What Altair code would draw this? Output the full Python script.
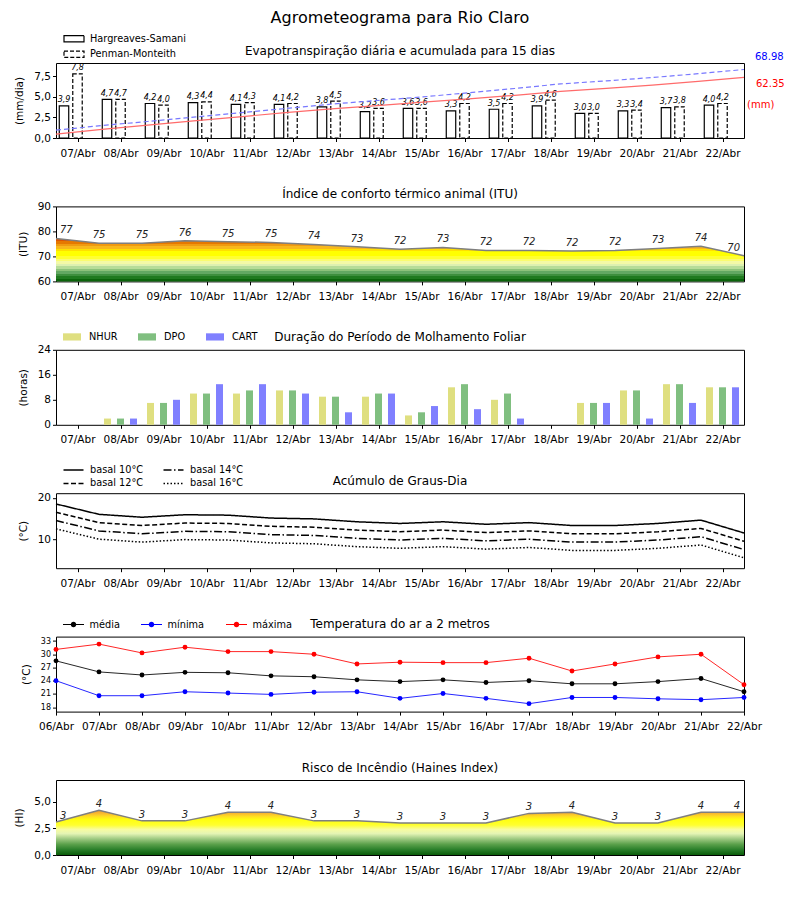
import json
import altair as alt
import pandas as pd

FONT = "DejaVu Sans"
W = 688
H = 75

# ---------------- data ----------------
days16 = ["07/Abr", "08/Abr", "09/Abr", "10/Abr", "11/Abr", "12/Abr", "13/Abr", "14/Abr",
          "15/Abr", "16/Abr", "17/Abr", "18/Abr", "19/Abr", "20/Abr", "21/Abr", "22/Abr"]
days17 = ["06/Abr"] + days16

titles = ["Agrometeograma para Rio Claro",
          "Evapotranspiração diária e acumulada para 15 dias",
          "Índice de conforto térmico animal (ITU)",
          "Duração do Período de Molhamento Foliar",
          "Acúmulo de Graus-Dia",
          "Temperatura do ar a 2 metros",
          "Risco de Incêndio (Haines Index)"]

# Panel 1: evapotranspiration (mm/dia)
et_series = ["Hargreaves-Samani", "Penman-Monteith"]
et_hs = [3.9, 4.7, 4.2, 4.3, 4.1, 4.1, 3.8, 3.2, 3.6, 3.3, 3.5, 3.9, 3.0, 3.3, 3.7, 4.0]
et_pm = [7.8, 4.7, 4.0, 4.4, 4.3, 4.2, 4.5, 3.6, 3.6, 4.2, 4.2, 4.6, 3.0, 3.4, 3.8, 4.2]
acc_labels = ["68.98", "62.35", "(mm)"]

# Panel 2: ITU
itu = [77.2, 75.3, 75.3, 76.3, 75.9, 75.6, 74.8, 73.9, 72.9, 73.6, 72.4, 72.4, 72.2, 72.4, 73.2, 74.1, 70.3]
itu_lab = [77, 75, 75, 76, 75, 75, 74, 73, 72, 73, 72, 72, 72, 72, 73, 74, 70]

# Panel 3: leaf wetness (horas)
wet_series = ["NHUR", "DPO", "CART"]
nhur = [0, 2, 7, 10, 10, 11, 9, 9, 3, 12, 8, 0, 7, 11, 13, 12]
dpo = [0, 2, 7, 10, 11, 11, 9, 10, 4, 13, 10, 0, 7, 11, 13, 12]
cart = [0, 2, 8, 13, 13, 10, 4, 10, 6, 5, 2, 0, 7, 2, 7, 12]

# Panel 4: graus-dia
gd_series = ["basal 10°C", "basal 12°C", "basal 14°C", "basal 16°C"]
gd10 = [18.5, 16.0, 15.3, 15.9, 15.8, 15.1, 14.9, 14.2, 13.8, 14.2, 13.6, 14.0, 13.3, 13.3, 13.8, 14.6, 11.5]
gd12 = [16.5, 14.0, 13.3, 13.9, 13.8, 13.1, 12.9, 12.2, 11.8, 12.2, 11.6, 12.0, 11.3, 11.3, 11.8, 12.6, 9.5]
gd14 = [14.5, 12.0, 11.3, 11.9, 11.8, 11.1, 10.9, 10.2, 9.8, 10.2, 9.6, 10.0, 9.3, 9.3, 9.8, 10.6, 7.5]
gd16 = [12.5, 10.0, 9.3, 9.9, 9.8, 9.1, 8.9, 8.2, 7.8, 8.2, 7.6, 8.0, 7.3, 7.3, 7.8, 8.6, 5.5]

# Panel 5: temperature
t_series = ["média", "mínima", "máxima"]
t_med = [28.5, 26.0, 25.3, 25.9, 25.8, 25.1, 24.9, 24.2, 23.8, 24.2, 23.6, 24.0, 23.3, 23.3, 23.8, 24.5, 21.5]
t_min = [24.0, 20.6, 20.6, 21.5, 21.2, 20.9, 21.4, 21.5, 20.0, 21.1, 20.0, 18.8, 20.2, 20.2, 19.9, 19.7, 20.2]
t_max = [31.1, 32.3, 30.3, 31.6, 30.6, 30.6, 30.0, 27.8, 28.2, 28.1, 28.1, 29.1, 26.2, 27.8, 29.4, 30.0, 23.1]

# Panel 6: Haines index
haines = [3.1, 4.2, 3.2, 3.2, 4.0, 4.0, 3.2, 3.2, 3.0, 3.0, 3.0, 3.9, 4.0, 3.0, 3.0, 4.0, 4.0]
haines_lab = [3, 4, 3, 3, 4, 4, 3, 3, 3, 3, 3, 3, 4, 3, 3, 4, 4]

# ---------------- styles ----------------
ITU_BANDS = [(60, 61, "#0b640b"), (61, 62, "#1f7a1f"), (62, 63, "#3d8f3d"), (63, 64, "#62a862"),
             (64, 65, "#8cc27a"), (65, 66, "#b6dc98"), (66, 67, "#ddf0b0"), (67, 68, "#f3f9a6"),
             (68, 69, "#fafc70"), (69, 70, "#ffff30"), (70, 72, "#ffff00"), (72, 73, "#ffe000"),
             (73, 74, "#f8b81c"), (74, 75, "#f09a10"), (75, 76, "#e67800"), (76, 77, "#dd5500"),
             (77, 80, "#cc1100")]
HAINES_STOPS = [(0.0, "#0a5c0a"), (0.5, "#2a7f2a"), (1.0, "#5aa04a"), (1.5, "#9cc880"),
                (2.0, "#e4f4b4"), (2.4, "#f8fca0"), (2.8, "#ffff30"), (3.3, "#ffff10"),
                (3.6, "#ffe020"), (3.9, "#f8b830"), (4.3, "#f09a30")]

# bar placement inside each day slot (slot units, 1 slot = 1 day)
ET_OFFSETS = [-0.314, 0.0]
ET_BAR_W = 0.22
WET_OFFSETS = [-0.302, 0.0, 0.302]
WET_BAR_W = 0.163


def band_gradient(bands, base, vmax):
    stops = []
    for lo, hi, col in bands:
        if lo >= vmax:
            break
        o1 = (lo - base) / (vmax - base)
        o2 = min((hi - base) / (vmax - base), 1.0)
        stops.append(alt.GradientStop(color=col, offset=o1))
        stops.append(alt.GradientStop(color=col, offset=o2))
    return alt.LinearGradient(gradient="linear", stops=stops, x1=0, x2=0, y1=1, y2=0)


def smooth_gradient(points, base, vmax):
    stops = []
    for v, col in points:
        o = (v - base) / (vmax - base)
        stops.append(alt.GradientStop(color=col, offset=min(max(o, 0.0), 1.0)))
        if o >= 1:
            break
    return alt.LinearGradient(gradient="linear", stops=stops, x1=0, x2=0, y1=1, y2=0)


def comma(fmt):
    return f"replace(format(datum.value, '{fmt}'), '.', ',')"


def title_layer(text, ypix, size=12):
    return alt.Chart(pd.DataFrame({"t": [text]})).mark_text(
        font=FONT, fontSize=size, align="center", baseline="middle", color="black"
    ).encode(text="t:N", x=alt.value(W / 2), y=alt.value(ypix))


def offset_expr(series, offsets):
    expr = str(offsets[-1])
    for s, o in zip(series[:-1][::-1], offsets[:-1][::-1]):
        expr = f"(datum.serie == '{s}' ? {o} : {expr})"
    return f"datum.idx + 0.5 + {expr}"


slot_expr = json.dumps(days16) + "[floor(datum.value)]"
day_expr = json.dumps(days17) + "[round(datum.value)]"
SLOT_SCALE = alt.Scale(domain=[0, 16], nice=False, zero=False)


def x_slot(field="idx"):
    return alt.X(f"{field}:Q", scale=SLOT_SCALE,
                 axis=alt.Axis(values=[i + 0.5 for i in range(16)], labelExpr=slot_expr, title=None))


TITLE_Y = -12.5

# ---------------- panel 1 ----------------
df_et = pd.DataFrame({
    "idx": list(range(16)) * 2,
    "serie": [et_series[0]] * 16 + [et_series[1]] * 16,
    "et": et_hs + et_pm,
})
et_base = alt.Chart(df_et).transform_calculate(
    xc=offset_expr(et_series, ET_OFFSETS)
).transform_calculate(
    xa=f"datum.xc - {ET_BAR_W / 2}", xb=f"datum.xc + {ET_BAR_W / 2}",
    lab="replace(format(datum.et, '.1f'), '.', ',')"
)
y_et = alt.Y("et:Q", scale=alt.Scale(domain=[0, 9.13], nice=False, zero=True),
             axis=alt.Axis(values=[0, 2.5, 5, 7.5], labelExpr=comma(".1f"), title="(mm/dia)"))
leg1 = alt.Legend(title=None, orient="none", legendX=11, legendY=-31.25, direction="vertical",
                  symbolType="M-1.6,-0.5H1.6V0.5H-1.6Z", symbolSize=156.25,
                  symbolFillColor="white", symbolStrokeColor="black", symbolStrokeWidth=1.2,
                  labelOffset=9, rowPadding=2.5, labelFontSize=9.75)
bars1 = et_base.mark_bar(fill="white", strokeWidth=1.2).encode(
    x=x_slot("xa"), x2="xb:Q", y=y_et, y2=alt.datum(0),
    stroke=alt.Stroke("serie:N", scale=alt.Scale(domain=et_series, range=["black", "black"]), legend=leg1),
    strokeDash=alt.StrokeDash("serie:N", scale=alt.Scale(domain=et_series, range=[[1, 0], [4, 2]]),
                              legend=leg1),
)
lab1 = et_base.mark_text(font=FONT, fontSize=8, fontStyle="italic", baseline="bottom", dy=-1.5,
                         color="black").encode(x=x_slot("xc"), y=y_et, text="lab:N")

df_cum = pd.DataFrame({"idx": list(range(16)), "hs": et_hs, "pm": et_pm})
cum_base = alt.Chart(df_cum).transform_window(
    cum_hs="sum(hs)", cum_pm="sum(pm)", sort=[alt.SortField("idx")], frame=[None, 0])
x_cum = alt.X("idx:Q", scale=alt.Scale(domain=[0, 15], nice=False, zero=False), axis=None)
ycum_scale = alt.Scale(domain=[0, 75], nice=False, zero=False)
line_hs = cum_base.mark_line(color="#ff6b6b", strokeWidth=1.2).encode(
    x=x_cum, y=alt.Y("cum_hs:Q", scale=ycum_scale, axis=None))
line_pm = cum_base.mark_line(color="#7878ff", strokeWidth=1.2, strokeDash=[5, 3]).encode(
    x=x_cum, y=alt.Y("cum_pm:Q", scale=ycum_scale, axis=None))


def ann(text, color, yv, dx):
    return alt.Chart(pd.DataFrame({"t": [text]})).mark_text(
        font=FONT, fontSize=10, color=color, align="left", baseline="middle", dx=dx
    ).encode(x=alt.datum(15), y=alt.datum(yv), text="t:N")


ann_pm = ann(acc_labels[0], "#0000ff", 81, 11)
ann_hs = ann(acc_labels[1], "#ff0000", 54, 12)
ann_mm = ann(acc_labels[2], "#ff0000", 33, 3)

p1 = alt.layer(
    alt.layer(bars1, lab1),
    alt.layer(line_hs, line_pm, ann_pm, ann_hs, ann_mm),
    title_layer(titles[0], -45, 16),
    title_layer(titles[1], TITLE_Y),
).resolve_scale(x="independent", y="independent").properties(width=W, height=H)

# ---------------- panel 2 ----------------
df_itu = pd.DataFrame({"idx": list(range(17)), "v": itu, "lab": itu_lab})
y_itu = alt.Y("v:Q", scale=alt.Scale(domain=[60, 90], nice=False, zero=False),
              axis=alt.Axis(values=[60, 70, 80, 90], title="(ITU)"))
base2 = alt.Chart(df_itu)
area2 = base2.mark_area(color=band_gradient(ITU_BANDS, 60, max(itu))).encode(
    x=x_slot(), y=y_itu, y2=alt.datum(60))
line2 = base2.mark_line(color="#7f7f7f", strokeWidth=1.5).encode(x=x_slot(), y=y_itu)


def point_labels(base, ycode, dy, last):
    common = dict(font=FONT, fontSize=10, fontStyle="italic", baseline="bottom", dy=dy, color="#222222")
    mid = base.transform_filter(f"datum.idx > 0 && datum.idx < {last}").mark_text(align="center", **common)
    first = base.transform_filter("datum.idx == 0").mark_text(align="left", dx=4, **common)
    lst = base.transform_filter(f"datum.idx == {last}").mark_text(align="right", dx=-4, **common)
    return [m.encode(x=x_slot(), y=ycode, text="lab:N") for m in (mid, first, lst)]


p2 = alt.layer(area2, line2, *point_labels(base2, y_itu, -3, 16), title_layer(titles[2], TITLE_Y)
               ).properties(width=W, height=H)

# ---------------- panel 3 ----------------
df_wet = pd.DataFrame({
    "idx": list(range(16)) * 3,
    "serie": [s for s in wet_series for _ in range(16)],
    "h": nhur + dpo + cart,
})
bars3 = alt.Chart(df_wet).transform_calculate(
    xc=offset_expr(wet_series, WET_OFFSETS)
).transform_calculate(
    xa=f"datum.xc - {WET_BAR_W / 2}", xb=f"datum.xc + {WET_BAR_W / 2}"
).mark_bar().encode(
    x=x_slot("xa"), x2="xb:Q",
    y=alt.Y("h:Q", scale=alt.Scale(domain=[0, 24], nice=False),
            axis=alt.Axis(values=[0, 8, 16, 24], title="(horas)")),
    y2=alt.datum(0),
    color=alt.Color("serie:N", scale=alt.Scale(domain=wet_series, range=["#dfdf80", "#80bf80", "#8080ff"]),
                    legend=alt.Legend(title=None, orient="none", legendX=7, legendY=-22, direction="horizontal",
                                      symbolType="M-1,-0.4H1V0.4H-1Z", symbolSize=324, symbolStrokeWidth=0,
                                      labelOffset=8, columnPadding=20, labelFontSize=9.75)),
)
p3 = alt.layer(bars3, title_layer(titles[3], TITLE_Y)).properties(width=W, height=H)

# ---------------- panel 4 ----------------
df_gd = pd.DataFrame({
    "idx": list(range(17)) * 4,
    "serie": [s for s in gd_series for _ in range(17)],
    "gd": gd10 + gd12 + gd14 + gd16,
})
gd_order = [gd_series[0], gd_series[2], gd_series[1], gd_series[3]]
gd_dash = [[1, 0], [8, 2.5, 1.5, 2.5], [5, 2.5], [1.5, 2]]
lines4 = alt.Chart(df_gd).mark_line(color="black", strokeWidth=1.5).encode(
    x=x_slot(),
    y=alt.Y("gd:Q", scale=alt.Scale(domain=[3.0, 21.1], nice=False, zero=False),
            axis=alt.Axis(values=[10, 20], title="(°C)")),
    strokeDash=alt.StrokeDash("serie:N", scale=alt.Scale(domain=gd_order, range=gd_dash),
                              legend=alt.Legend(title=None, orient="none", legendX=10.5, legendY=-30.25,
                                                direction="horizontal", columns=2,
                                                symbolType="M-1.6,0H1.6", symbolSize=156.25,
                                                symbolStrokeColor="black", symbolStrokeWidth=1.5,
                                                symbolFillColor="transparent",
                                                labelOffset=9.5, rowPadding=1.5, columnPadding=17,
                                                labelFontSize=9.75)),
)
p4 = alt.layer(lines4, title_layer(titles[4], TITLE_Y)).properties(width=W, height=H)

# ---------------- panel 5 ----------------
df_t = pd.DataFrame({
    "idx": list(range(17)) * 3,
    "serie": [s for s in t_series for _ in range(17)],
    "t": t_med + t_min + t_max,
})
x_day = alt.X("idx:Q", scale=alt.Scale(domain=[0, 16], nice=False, zero=False),
              axis=alt.Axis(values=list(range(17)), labelExpr=day_expr, title=None))
y_t = alt.Y("t:Q", scale=alt.Scale(domain=[17, 34], nice=False, zero=False),
            axis=alt.Axis(values=[18, 21, 24, 27, 30, 33], title="(°C)", labelFontSize=8))
t_colors = ["#000000", "#0000ff", "#ff0000"]
lines5 = alt.Chart(df_t).transform_calculate(linha="datum.serie").mark_line(strokeWidth=1, opacity=0.85).encode(
    x=x_day, y=y_t,
    stroke=alt.Stroke("linha:N", scale=alt.Scale(domain=t_series, range=t_colors), legend=None))
LINEDOT = ("M-1.68,-0.09H1.68V0.09H-1.68Z "
           "M0.44,0A0.44,0.44 0 1,1 -0.44,0A0.44,0.44 0 1,1 0.44,0Z")
pts5 = alt.Chart(df_t).mark_point(filled=True, size=24, opacity=1).encode(
    x=x_day, y=y_t,
    fill=alt.Fill("serie:N", scale=alt.Scale(domain=t_series, range=t_colors),
                  legend=alt.Legend(title=None, orient="none", legendX=11, legendY=-18.95,
                                    direction="horizontal", symbolType=LINEDOT, symbolSize=156.25,
                                    symbolStrokeWidth=0, labelOffset=9.5, columnPadding=21,
                                    labelFontSize=9.75)))
p5 = alt.layer(lines5, pts5, title_layer(titles[5], TITLE_Y)).resolve_scale(
    stroke="independent", fill="independent").properties(width=W, height=H)

# ---------------- panel 6 ----------------
df_h = pd.DataFrame({"idx": list(range(17)), "v": haines, "lab": haines_lab})
y_h = alt.Y("v:Q", scale=alt.Scale(domain=[0, 7.03], nice=False, zero=False),
            axis=alt.Axis(values=[0, 2.5, 5], labelExpr=comma(".1f"), title="(HI)"))
base6 = alt.Chart(df_h)
area6 = base6.mark_area(color=smooth_gradient(HAINES_STOPS, 0, max(haines))).encode(
    x=x_slot(), y=y_h, y2=alt.datum(0))
line6 = base6.mark_line(color="#7f7f7f", strokeWidth=1.5).encode(x=x_slot(), y=y_h)
p6 = alt.layer(area6, line6, *point_labels(base6, y_h, -1, 16), title_layer(titles[6], TITLE_Y)
               ).properties(width=W, height=H)

# ---------------- assemble ----------------
chart = alt.vconcat(p1, p2, p3, p4, p5, p6, spacing=68.4, bounds="flush").resolve_scale(
    color="independent", fill="independent", stroke="independent", strokeDash="independent"
).resolve_legend(
    color="independent", fill="independent", stroke="independent", strokeDash="independent"
).properties(
    padding={"left": 6, "top": 1, "right": 5, "bottom": 5}
).configure_view(
    stroke="black", strokeWidth=1
).configure_axis(
    labelFont=FONT, labelFontSize=10.5, labelColor="black", titleFont=FONT, titleFontSize=10.5,
    titleFontWeight="normal", titleColor="black", tickColor="black", tickSize=3.5, tickWidth=1,
    domain=False, grid=False, labelPadding=2, titlePadding=9, labelFlush=False, labelOverlap=False
).configure_axisX(
    labelPadding=6.5
).configure_legend(
    labelFont=FONT, labelColor="black", padding=0
).configure_text(font=FONT)

chart.save("out.html", embed_options={"renderer": "svg", "actions": False})
